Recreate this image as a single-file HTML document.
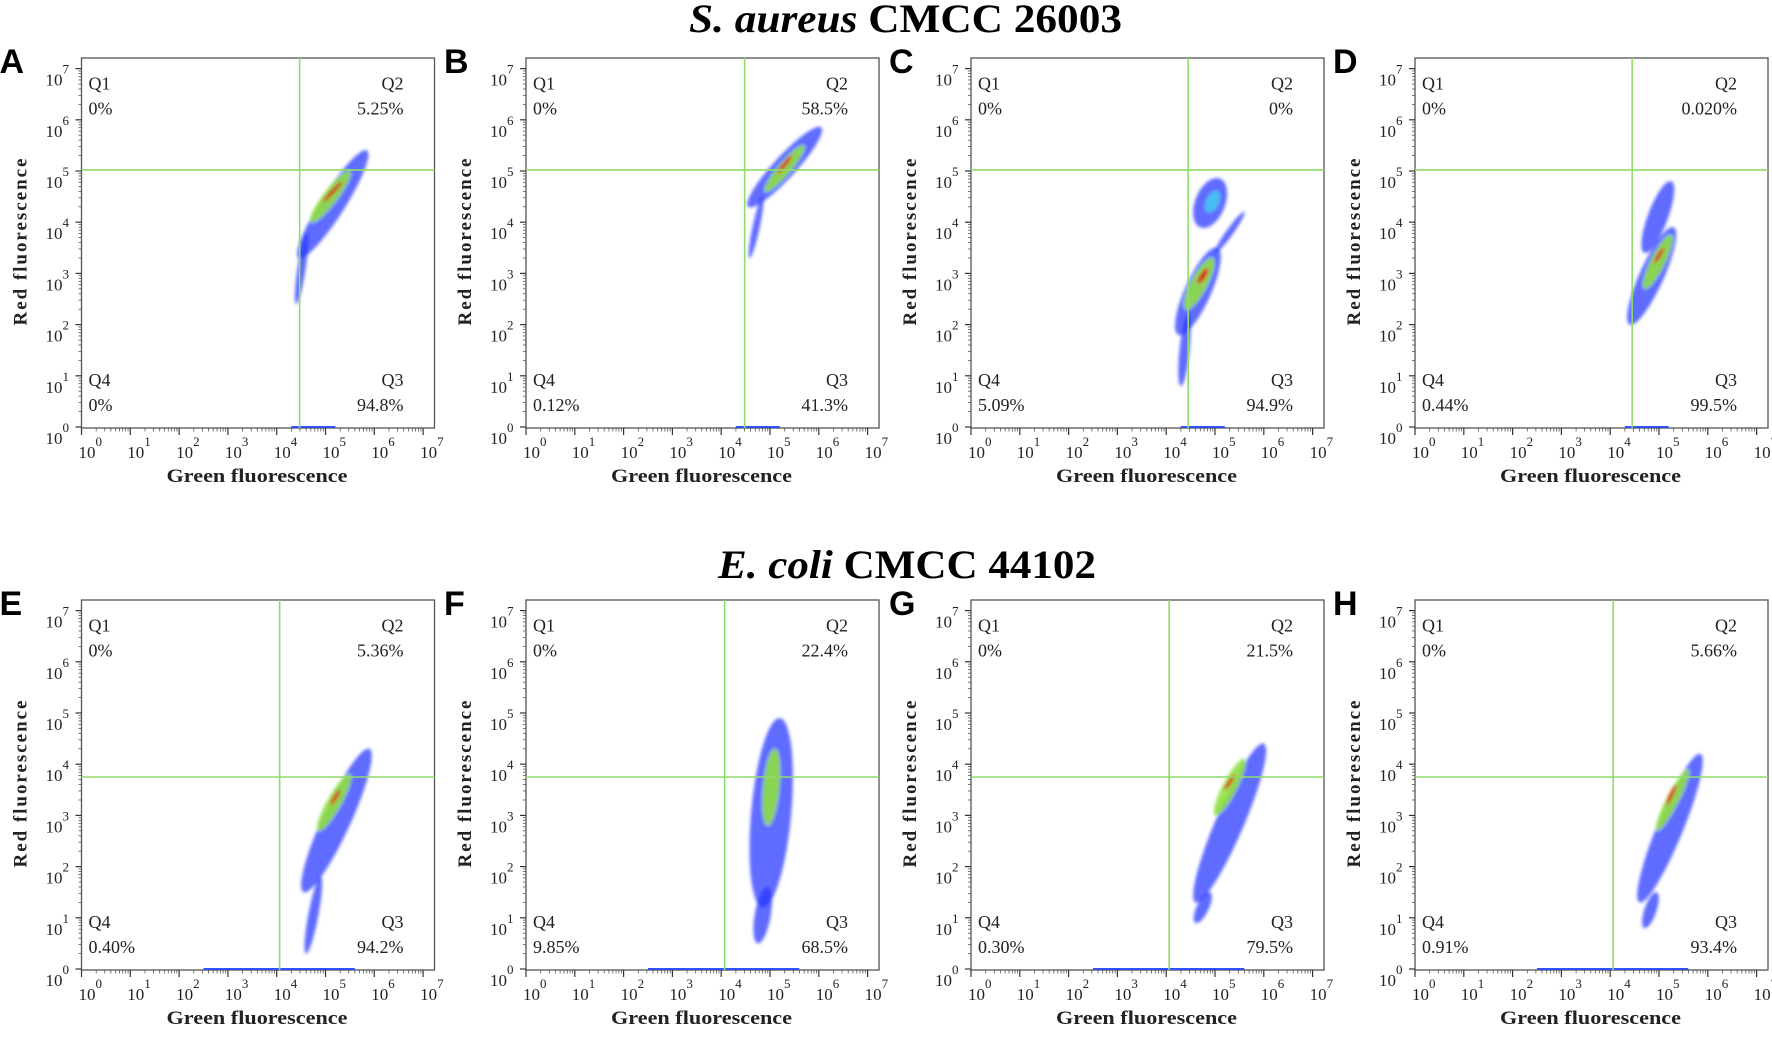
<!DOCTYPE html>
<html><head><meta charset="utf-8"><style>
html,body{margin:0;padding:0;background:#fff;}
svg{display:block;}
text{font-family:"Liberation Serif",serif;fill:#222;}
</style></head><body>
<svg id="fig" width="1772" height="1037" viewBox="0 0 1772 1037" xmlns="http://www.w3.org/2000/svg">
<defs><filter id="soft" x="-20%" y="-20%" width="140%" height="140%"><feGaussianBlur stdDeviation="1.6"/></filter></defs>
<text x="689" y="32" font-size="40" font-weight="bold" textLength="433" lengthAdjust="spacingAndGlyphs" style="fill:#000"><tspan font-style="italic">S. aureus</tspan> CMCC 26003</text>
<text x="718" y="578" font-size="40" font-weight="bold" textLength="378" lengthAdjust="spacingAndGlyphs" style="fill:#000"><tspan font-style="italic">E. coli</tspan> CMCC 44102</text>
<g id="panels"></g>
</svg>
<script>
const panelLetters = ["A","B","C","D","E","F","G","H"];
const q1Values = ["0%","0%","0%","0%","0%","0%","0%","0%"];
const q2Values = ["5.25%","58.5%","0%","0.020%","5.36%","22.4%","21.5%","5.66%"];
const q3Values = ["94.8%","41.3%","94.9%","99.5%","94.2%","68.5%","79.5%","93.4%"];
const q4Values = ["0%","0.12%","5.09%","0.44%","0.40%","9.85%","0.30%","0.91%"];
const gateX = [4.47,4.48,4.45,4.45,4.06,4.07,4.06,4.06];
const gateY = [5.02,5.02,5.02,5.02,3.75,3.75,3.75,3.75];
const decadeTicks = [0,1,2,3,4,5,6,7];
// populations: panel index, density level (0 blue..4 red), log endpoints, half-width in decades
const blobPanel = [0,0,0,0, 1,1,1,1, 2,2,2,2,2,2,2, 3,3,3,3, 4,4,4,4, 5,5,5, 6,6,6,6, 7,7,7,7];
const blobLevel = [0,0,2,4, 0,0,2,4, 0,0,2,4,0,1,0, 0,0,2,4, 0,0,2,4, 0,0,2, 0,0,2,4, 0,0,2,4];
const blobX0 = [4.45,4.40,4.70,4.95, 4.55,4.58,4.90,5.15, 4.25,4.30,4.40,4.65,4.70,4.85,5.00, 4.40,4.70,4.70,4.90, 4.55,4.60,4.85,5.10, 4.85,4.75,4.95, 4.60,4.60,5.00,5.20, 4.60,4.70,4.95,5.15];
const blobY0 = [3.30,2.40,4.00,4.40, 4.30,3.30,4.60,4.95, 1.80,0.80,2.30,2.80,3.90,4.20,3.40, 2.00,3.40,2.70,3.20, 1.50,0.30,2.70,3.20, 1.20,0.50,2.80, 1.30,0.90,3.00,3.50, 1.30,0.80,2.70,3.20];
const blobX1 = [5.85,4.62,5.50,5.35, 6.05,4.85,5.70,5.45, 5.05,4.45,4.95,4.85,5.10,5.05,5.60, 5.30,5.25,5.25,5.10, 5.90,4.90,5.50,5.30, 5.20,4.95,5.10, 6.00,4.90,5.60,5.40, 5.85,4.95,5.60,5.35];
const blobY1 = [5.40,3.80,5.00,4.80, 5.85,4.50,5.50,5.30, 3.50,2.20,3.30,3.10,4.85,4.60,4.20, 3.90,4.80,3.75,3.50, 4.30,1.80,3.80,3.50, 4.90,1.60,4.30, 4.40,1.50,4.10,3.80, 4.20,1.50,3.90,3.60];
const blobW = [0.24,0.08,0.14,0.04, 0.22,0.07,0.12,0.04, 0.26,0.10,0.16,0.06,0.30,0.12,0.07, 0.24,0.20,0.14,0.04, 0.28,0.10,0.14,0.04, 0.40,0.16,0.16, 0.28,0.12,0.14,0.04, 0.26,0.12,0.12,0.04];
const levelColors = ["#2233ff","#44c8f0","#8fe040","#ffe020","#e01818"];

const NS="http://www.w3.org/2000/svg";
const root=document.getElementById('panels');
const PX_X=48.8, PX_Y=51.2, BOXW=353, BOXH=370;
const lefts=[81.5,526,971,1415];
function mk(tag,attrs,parent){const e=document.createElementNS(NS,tag);for(const k in attrs)e.setAttribute(k,attrs[k]);(parent||root).appendChild(e);return e;}

panelLetters.forEach((L,i)=>{
  const left=lefts[i%4], row=Math.floor(i/4), off=row*542;
  const top=58+off, bottom=428+off, y0=427+off;
  const X=l=>left+l*PX_X, Y=l=>y0-l*PX_Y;
  const g=mk('g',{});
  
  
  const lt=mk('text',{x:left-82,y:73+off,'font-size':34,'font-weight':'bold',style:'font-family:"Liberation Sans",sans-serif;fill:#000'},g);
  lt.textContent=L;
  
  
  const box=mk('rect',{x:left,y:top,width:BOXW,height:BOXH,fill:'#fff',stroke:'#555','stroke-width':1.3},g);
  
  
  const cg=mk('g',{filter:'url(#soft)'},g);
  
  
  for(let lev=0;lev<5;lev++){
    blobPanel.forEach((p,k)=>{
      if(p!==i||blobLevel[k]!==lev)return;
      const ax=X(blobX0[k]),ay=Y(blobY0[k]),bx=X(blobX1[k]),by=Y(blobY1[k]);
      const cx=(ax+bx)/2,cy=(ay+by)/2,d=Math.hypot(bx-ax,by-ay)/2,ang=Math.atan2(by-ay,bx-ax)*180/Math.PI;
      const e=mk('ellipse',{cx:cx,cy:cy,rx:Math.max(d,3),ry:blobW[k]*50,fill:levelColors[lev],opacity:lev===0?0.72:0.9,transform:`rotate(${ang} ${cx} ${cy})`},cg);
      
      
    });
  }
  const st=mk('line',{x1:X(row?2.5:4.3),x2:X(row?5.6:5.2),y1:bottom-1,y2:bottom-1,stroke:'#3050ff','stroke-width':2},g);
  
  
  const gv=mk('line',{x1:X(gateX[i]),x2:X(gateX[i]),y1:top,y2:bottom,stroke:'#8fdc6a','stroke-width':1.6},g);
  
  
  const gh=mk('line',{x1:left,x2:left+BOXW,y1:Y(gateY[i]),y2:Y(gateY[i]),stroke:'#8fdc6a','stroke-width':1.6},g);
  
  
  decadeTicks.forEach(d=>{
    const ty=Y(d), tx=X(d);
    const a=mk('line',{x1:left-6,x2:left,y1:ty,y2:ty,stroke:'#333','stroke-width':1.2},g);
    
    
    const b=mk('line',{x1:tx,x2:tx,y1:bottom,y2:bottom+7,stroke:'#333','stroke-width':1.2},g);
    
    
    if(d<7){for(let m=2;m<10;m++){const f=Math.log10(m);
      mk('line',{x1:left-3,x2:left,y1:Y(d+f),y2:Y(d+f),stroke:'#555','stroke-width':0.8},g);
      mk('line',{x1:X(d+f),x2:X(d+f),y1:bottom,y2:bottom+3.5,stroke:'#555','stroke-width':0.8},g);}}
    const yl=mk('text',{x:left-36,y:ty+17,'font-size':17},g);
    yl.innerHTML='10<tspan dy="-12" font-size="13">'+d+'</tspan>';
    
    
    const xl=mk('text',{x:tx-3,y:bottom+30,'font-size':17},g);
    xl.innerHTML='10<tspan dy="-12" font-size="13">'+d+'</tspan>';
    
    
  });
  const xt=mk('text',{x:left+85,y:bottom+54,'font-size':19,'font-weight':'bold',textLength:181,lengthAdjust:'spacingAndGlyphs'},g);
  xt.textContent='Green fluorescence';
  
  
  const cyy=242+off;
  const yt=mk('text',{x:left-61,y:cyy+6,'font-size':19,'font-weight':'bold','text-anchor':'middle',textLength:167,lengthAdjust:'spacing',transform:`rotate(-90 ${left-61} ${cyy})`},g);
  yt.textContent='Red fluorescence';
  
  
  const qs=[["Q1",q1Values[i],left+7,'start',89.5],["Q2",q2Values[i],left+322,'end',89.5],["Q4",q4Values[i],left+7,'start',386],["Q3",q3Values[i],left+322,'end',386]];
  qs.forEach(q=>{
    const t1=mk('text',{x:q[2],y:q[4]+off,'font-size':18,'text-anchor':q[3]},g);
    t1.textContent=q[0];
    
    
    const t2=mk('text',{x:q[2],y:q[4]+25+off,'font-size':18,'text-anchor':q[3]},g);
    t2.textContent=q[1];
    
    
  });
});
</script>
</body></html>
